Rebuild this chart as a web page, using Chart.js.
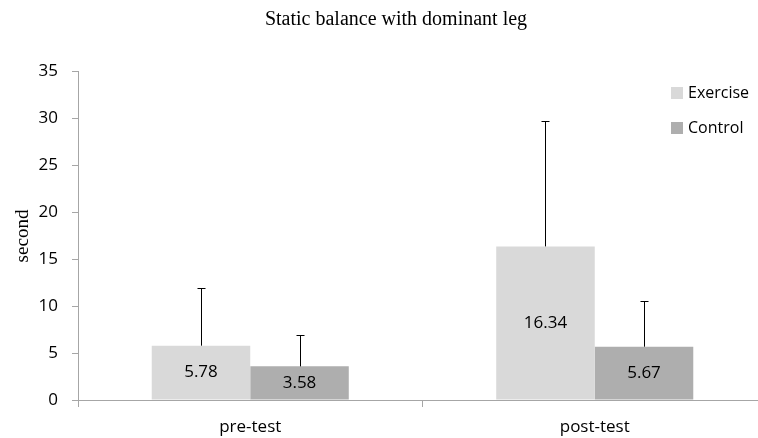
<!DOCTYPE html>
<html><head><meta charset="utf-8">
<script src="https://cdn.jsdelivr.net/npm/chart.js@4"></script>
<style>html,body{margin:0;padding:0;overflow:hidden;background:#fff}
#wrap{width:768px;height:438px;position:relative}</style></head><body>
<div id="wrap"><canvas id="c" width="768" height="438" style="width:768px;height:438px"></canvas></div>
<script>
const categories = ['pre-test', 'post-test'];
const seriesNames = ['Exercise', 'Control'];
const exerciseValues = [5.78, 16.34];
const controlValues = [3.58, 5.67];
const exerciseErrors = [6.17, 13.37];
const controlErrors = [3.37, 4.89];
const yTickMin = 0, yTickMax = 35, yTickStep = 5;
const titleText = 'Static balance with dominant leg';
const yTitleText = 'second';

const colors = ['#D9D9D9', '#AEAEAE'];
const axisColor = '#A6A6A6';
const sansFont = "'Open Sans', sans-serif";
const serifFont = "'Liberation Serif', 'DejaVu Serif', serif";

const errorsBySeries = [exerciseErrors, controlErrors];

const extras = {
  id: 'extras',
  afterDatasetsDraw(chart) {
    const ctx = chart.ctx;
    const y = chart.scales.y;
    ctx.save();
    chart.data.datasets.forEach((ds, di) => {
      const meta = chart.getDatasetMeta(di);
      meta.data.forEach((bar, i) => {
        const v = ds.data[i];
        const e = errorsBySeries[di][i];
        const top = y.getPixelForValue(v + e);
        const x = Math.round(bar.x) + 0.5;
        ctx.strokeStyle = '#000';
        ctx.lineWidth = 1;
        ctx.beginPath();
        ctx.moveTo(x, bar.y);
        ctx.lineTo(x, Math.round(top) + 0.5);
        ctx.moveTo(x - 4, Math.round(top) + 0.5);
        ctx.lineTo(x + 4, Math.round(top) + 0.5);
        ctx.stroke();
        ctx.fillStyle = '#000';
        ctx.font = "17px " + sansFont;
        ctx.textAlign = 'center';
        ctx.textBaseline = 'middle';
        ctx.fillText(v.toFixed(2), bar.x, (bar.y + bar.base) / 2);
      });
    });
    ctx.restore();
  },
  afterDraw(chart) {
    const ctx = chart.ctx;
    ctx.save();
    ctx.fillStyle = '#000';
    ctx.font = "20px " + serifFont;
    ctx.textAlign = 'center';
    ctx.textBaseline = 'alphabetic';
    ctx.fillText(titleText, 396, 25);
    ctx.font = "19px " + serifFont;
    ctx.translate(28, 236);
    ctx.rotate(-Math.PI / 2);
    ctx.fillText(yTitleText, 0, 0);
    ctx.restore();
    ctx.save();
    const items = [[87, 0], [122, 1]];
    items.forEach(([yy, di]) => {
      ctx.fillStyle = colors[di];
      ctx.fillRect(671, yy, 12, 12);
      ctx.fillStyle = '#000';
      ctx.font = "16px " + sansFont;
      ctx.textAlign = 'left';
      ctx.textBaseline = 'middle';
      ctx.fillText(seriesNames[di], 688, yy + 6);
    });
    ctx.restore();
  }
};

new Chart(document.getElementById('c'), {
  type: 'bar',
  data: {
    labels: categories,
    datasets: [
      { label: seriesNames[0], data: exerciseValues, backgroundColor: colors[0], categoryPercentage: 0.572, barPercentage: 1.0 },
      { label: seriesNames[1], data: controlValues, backgroundColor: colors[1], categoryPercentage: 0.572, barPercentage: 1.0 }
    ]
  },
  options: {
    responsive: false,
    animation: false,
    devicePixelRatio: 1,
    layout: { padding: { left: 0, right: 1, top: 71, bottom: 0 } },
    plugins: { legend: { display: false }, title: { display: false }, tooltip: { enabled: false } },
    scales: {
      x: {
        grid: { display: true, offset: true, drawOnChartArea: false, tickLength: 7, color: axisColor },
        border: { color: axisColor, width: 1 },
        ticks: { color: '#000', font: { family: sansFont, size: 17 }, padding: 10 },
        afterFit(s) { s.height = 38; }
      },
      y: {
        min: yTickMin, max: yTickMax,
        grid: { display: true, drawOnChartArea: false, tickLength: 6, color: axisColor },
        border: { color: axisColor, width: 1 },
        ticks: { stepSize: yTickStep, color: '#000', font: { family: sansFont, size: 17 }, padding: 14 },
        afterFit(s) { s.width = 78; }
      }
    }
  },
  plugins: [extras]
});
</script>
</body></html>
